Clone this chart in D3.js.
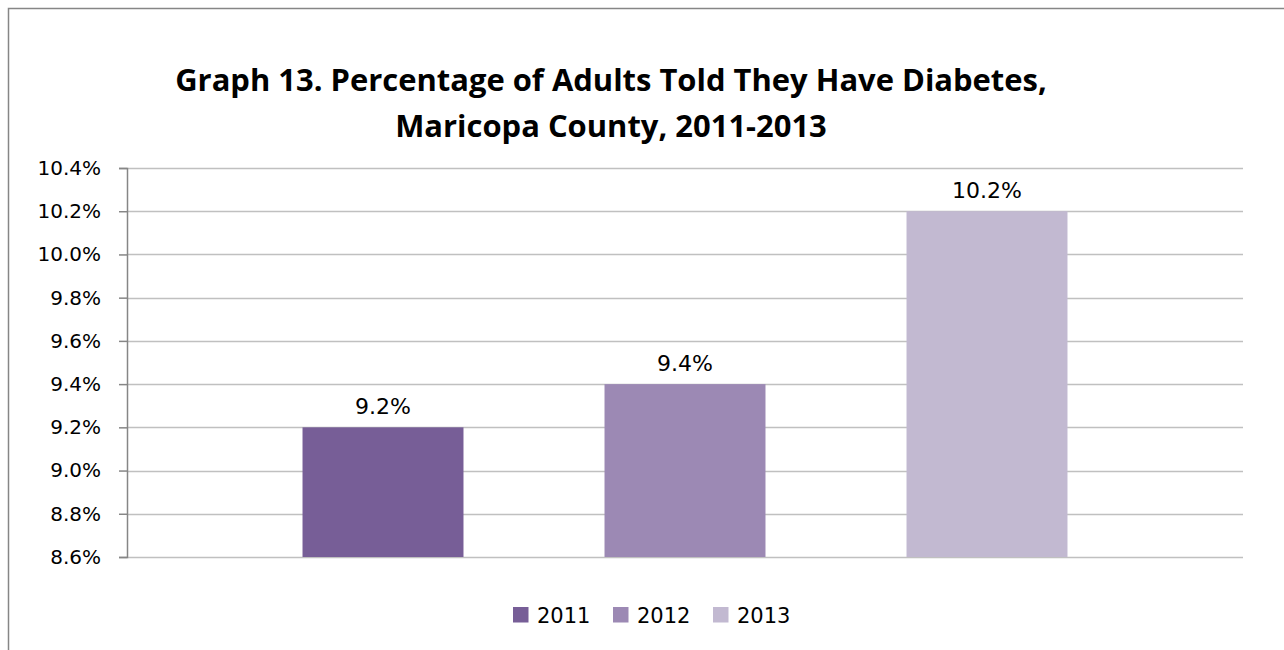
<!DOCTYPE html>
<html>
<head>
<meta charset="utf-8">
<script src="https://cdn.jsdelivr.net/npm/d3@7/dist/d3.min.js"></script>
<style>
  html, body { margin: 0; padding: 0; background: #fff; }
  svg { display: block; }
</style>
</head>
<body>
<svg id="chart" width="1284" height="650"></svg>
<script>
const titleLines = ["Graph 13. Percentage of Adults Told They Have Diabetes,", "Maricopa County, 2011-2013"];
const seriesNames = ["2011", "2012", "2013"];
const seriesValues = [9.2, 9.4, 10.2];
const seriesColors = ["#775E97", "#9C89B4", "#C2B9D1"];
const yTicks = [8.6, 8.8, 9.0, 9.2, 9.4, 9.6, 9.8, 10.0, 10.2, 10.4];
const yDomain = [8.6, 10.4];

const svg = d3.select("#chart");
const plot = { left: 127, right: 1243, top: 168, bottom: 557 };
const numFont = "'DejaVu Sans', sans-serif";

// outer border (chart area extends beyond the picture on right and bottom)
svg.append("rect")
  .attr("x", 8.5).attr("y", 8.5)
  .attr("width", 1400).attr("height", 800)
  .attr("fill", "#fff").attr("stroke", "#868686").attr("stroke-width", 1.5);

// title
const titleCx = 611;
const titleSel = svg.append("g").selectAll("text").data(titleLines).join("text")
  .attr("x", titleCx)
  .attr("y", (d, i) => 91 + i * 46)
  .attr("text-anchor", "middle")
  .style("font-family", "'Open Sans', sans-serif")
  .style("font-weight", "bold")
  .style("font-size", "24px")
  .attr("fill", "#000")
  .text(d => d);
// fit title width to reference
const w0 = titleSel.nodes()[0].getComputedTextLength();
titleSel.style("font-size", (24 * 872 / w0) + "px");

const y = d3.scaleLinear().domain(yDomain).range([plot.bottom, plot.top]);
const center = (plot.left + plot.right) / 2;
const step = 302;
const x = d3.scaleBand()
  .domain(seriesNames)
  .range([center - 1.5 * step, center + 1.5 * step])
  .paddingInner(0.467)
  .paddingOuter(0.2335);

// gridlines
svg.append("g").selectAll("line").data(yTicks).join("line")
  .attr("x1", plot.left).attr("x2", plot.right)
  .attr("y1", d => Math.round(y(d)) + 0.5).attr("y2", d => Math.round(y(d)) + 0.5)
  .attr("stroke", "#C0C0C0").attr("stroke-width", 1.5);

// y axis
const yAxis = d3.axisLeft(y)
  .tickValues(yTicks)
  .tickSize(8)
  .tickPadding(18)
  .tickFormat(d => d.toFixed(1) + "%");
const gy = svg.append("g")
  .attr("transform", `translate(${plot.left},0)`)
  .call(yAxis);
gy.select(".domain").attr("stroke", "#868686").attr("stroke-width", 1.5);
gy.selectAll(".tick line").attr("stroke", "#868686").attr("stroke-width", 1.5);
gy.selectAll(".tick text")
  .style("font-family", numFont)
  .style("font-size", "20px")
  .attr("fill", "#000");

// bars
const data = seriesNames.map((s, i) => ({ name: s, value: seriesValues[i], color: seriesColors[i] }));
svg.append("g").selectAll("rect").data(data).join("rect")
  .attr("x", d => x(d.name))
  .attr("width", x.bandwidth())
  .attr("y", d => y(d.value))
  .attr("height", d => y(yDomain[0]) - y(d.value))
  .attr("fill", d => d.color);

// data labels
svg.append("g").selectAll("text").data(data).join("text")
  .attr("x", d => x(d.name) + x.bandwidth() / 2)
  .attr("y", d => y(d.value) - 13.5)
  .attr("text-anchor", "middle")
  .style("font-family", numFont)
  .style("font-size", "22px")
  .attr("fill", "#000")
  .text(d => d.value.toFixed(1) + "%");

// legend
const legend = svg.append("g");
const legendX0 = 513, legendStep = 100, legendY = 607;
const items = legend.selectAll("g").data(data).join("g")
  .attr("transform", (d, i) => `translate(${legendX0 + i * legendStep},${legendY})`);
items.append("rect").attr("width", 15.5).attr("height", 15.5).attr("fill", d => d.color);
items.append("text").attr("x", 24).attr("y", 15.5)
  .style("font-family", numFont)
  .style("font-size", "21px")
  .attr("fill", "#000")
  .text(d => d.name);
</script>
</body>
</html>
